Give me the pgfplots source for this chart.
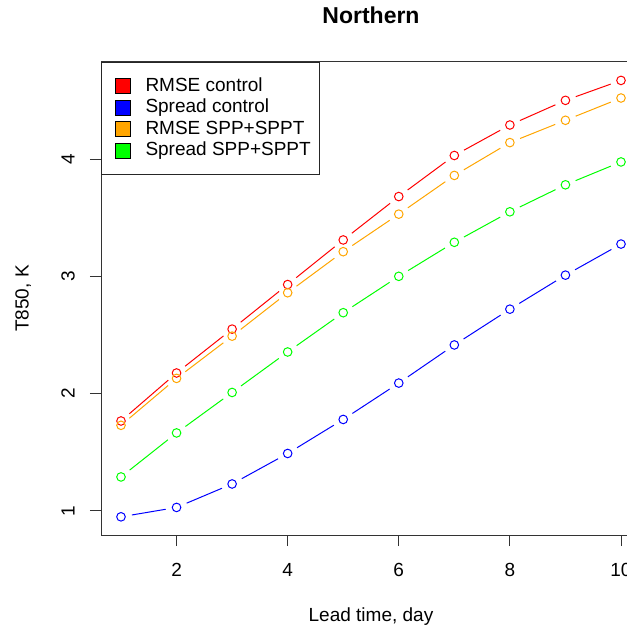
\documentclass[border=0pt]{standalone}
\usepackage{pgfplots}
\usepackage{pgfplotstable}
\usepackage{fontspec}
\setmainfont{Liberation Sans}
\pgfplotsset{compat=1.18}

% lead time vs T850 error
\pgfplotstableread{
x  rc     sc     rs    ss
1  1.767  0.950  1.73  1.290
2  2.176  1.030  2.13  1.665
3  2.550  1.230  2.49  2.010
4  2.930  1.490  2.86  2.355
5  3.310  1.780  3.21  2.690
6  3.680  2.090  3.53  3.000
7  4.030  2.415  3.86  3.290
8  4.290  2.720  4.14  3.550
9  4.500  3.010  4.33  3.780
10 4.670  3.275  4.52  3.975
}\tbl

\definecolor{rorange}{RGB}{255,165,0}
\definecolor{rgreen}{RGB}{0,255,0}

% R type="b": each segment drawn alone, cut back 11bp at both ends
\newcommand{\seg}[3]{%
  \addplot[#1, line width=1bp, no markers, forget plot,
    shorten <=11bp, shorten >=11bp, restrict x to domain=#3]
    table[x=x, y=#2] {\tbl};}
\newcommand{\series}[2]{%
  \seg{#1}{#2}{1:2}\seg{#1}{#2}{2:3}\seg{#1}{#2}{3:4}
  \seg{#1}{#2}{4:5}\seg{#1}{#2}{5:6}\seg{#1}{#2}{6:7}
  \seg{#1}{#2}{7:8}\seg{#1}{#2}{8:9}\seg{#1}{#2}{9:10}
  \addplot[#1, only marks, mark=o, mark size=4.3bp, mark options={line width=1bp}, forget plot]
    table[x=x, y=#2] {\tbl};}

\pgfplotsset{
  sq/.style={legend image code/.code={
    \path (0bp,0bp) (34bp,0bp);
    \draw[black, line width=0.8bp, fill=#1] (7bp,-7.5bp) rectangle (22bp,7.5bp);}},
}

\newcommand{\fs}{\fontsize{19bp}{22bp}\selectfont}

\begin{document}
\begin{tikzpicture}
\useasboundingbox (0,0) rectangle (627bp,627bp);
\clip (0,0) rectangle (627bp,627bp);
\begin{axis}[
  at={(101bp,92bp)}, anchor=south west,
  scale only axis, width=540bp, height=473bp,
  xmin=0.64, xmax=10.36, ymin=0.795, ymax=4.827,
  xtick={2,4,6,8,10}, ytick={1,2,3,4},
  xtick pos=bottom, ytick pos=left,
  tick align=outside, major tick length=11bp,
  axis line style={line width=1bp, black!80},
  tick style={line width=1bp, black!80},
  /pgf/number format/assume math mode=true,
  tick label style={font=\fs},
  xticklabel style={anchor=center, yshift=-24bp},
  yticklabel style={anchor=center, xshift=-22bp, rotate=90},
  xlabel={Lead time, day},
  ylabel={T850, K},
  label style={font=\fs},
  xlabel style={at={(axis description cs:0.5,-0.173)}, anchor=center},
  ylabel style={at={(axis description cs:-0.144,0.5)}, anchor=center},
  title={Northern},
  title style={font=\fontsize{23bp}{26bp}\selectfont\bfseries, at={(axis description cs:0.5,1.087)}, anchor=center},
  legend style={at={(0,1)}, anchor=north west, draw=black!85, line width=1bp,
    font=\fs, inner xsep=6.5bp, inner ysep=12.8bp, row sep=0bp,
    nodes={inner xsep=2.5bp, inner ysep=1.8bp, text height=14bp, text depth=4bp}},
  legend cell align=left,
]
\addlegendimage{sq=red}
\addlegendentry{RMSE control}
\addlegendimage{sq=blue}
\addlegendentry{Spread control}
\addlegendimage{sq=rorange}
\addlegendentry{RMSE SPP+SPPT}
\addlegendimage{sq=rgreen}
\addlegendentry{Spread SPP+SPPT}

\series{red}{rc}
\series{blue}{sc}
\series{rorange}{rs}
\series{rgreen}{ss}
\end{axis}
\end{tikzpicture}
\end{document}
